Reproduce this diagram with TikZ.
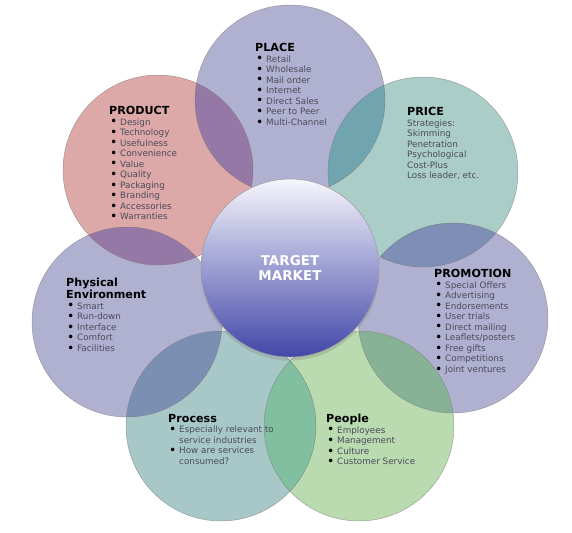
\documentclass[tikz,border=0pt]{standalone}
\usepackage{fontspec}
\setmainfont{DejaVu Sans}
\usepackage{tikz}
\usetikzlibrary{shadows}

\definecolor{lavc}{RGB}{176,176,208}
\definecolor{pricec}{RGB}{170,205,200}
\definecolor{peoplec}{RGB}{186,218,176}
\definecolor{processc}{RGB}{168,200,200}
\definecolor{prodc}{RGB}{221,168,168}
\definecolor{ovpurple}{RGB}{150,120,166}
\definecolor{ovteal}{RGB}{112,165,175}
\definecolor{ovblue}{RGB}{125,143,180}
\definecolor{ovgreen}{RGB}{135,178,150}
\definecolor{ovsea}{RGB}{130,190,160}
\definecolor{ovslate}{RGB}{123,143,178}
\definecolor{hubtop}{RGB}{246,246,252}
\definecolor{hubbot}{RGB}{66,70,168}
\definecolor{textgray}{RGB}{75,75,92}

\newcommand{\ttl}[1]{{\fontsize{9.5}{9}\selectfont\bfseries\color{black}#1}}
\newcommand{\itm}[1]{\hspace*{0.03cm}\makebox[0.30cm][l]{\raisebox{-0.6pt}{\fontsize{10.5}{9}\selectfont\color{black}\textbullet}}#1}
\newcommand{\cnt}[1]{\hspace*{0.33cm}#1}

\tikzset{
  petal/.style={circle, minimum size=5.7cm, inner sep=0pt},
  rim/.style={draw=black!55, draw opacity=0.6, line width=0.4pt},
  txt/.style={anchor=north west, inner sep=0pt, align=left, text=textgray,
    font=\fontsize{7.5}{9}\selectfont},
  hub/.style={circle, minimum size=5.34cm, inner sep=0pt, draw=black!40,
    top color=hubtop, bottom color=hubbot, text=white, align=center,
    font=\fontsize{11.5}{13.6}\selectfont\bfseries,
    drop shadow={opacity=0.3, shadow xshift=0pt, shadow yshift=-3pt}}
}

\begin{document}
\begin{tikzpicture}[x=0.03cm, y=-0.03cm]
  \useasboundingbox (0,0) rectangle (572,532);

  \node [petal, fill=lavc] (place) at (290,100) {};
  \node [petal, fill=pricec] (price) at (423,172) {};
  \node [petal, fill=lavc] (promo) at (453,318) {};
  \node [petal, fill=peoplec] (people) at (359,426) {};
  \node [petal, fill=processc] (process) at (221,426) {};
  \node [petal, fill=lavc] (phys) at (127,322) {};
  \node [petal, fill=prodc] (product) at (158,170) {};

  \foreach \a/\b/\c in {product/place/ovpurple, place/price/ovteal,
      price/promo/ovblue, promo/people/ovgreen, people/process/ovsea,
      process/phys/ovslate, phys/product/ovpurple} {
    \begin{scope}
      \clip (\a) circle (95);
      \fill [\c] (\b) circle (95);
    \end{scope}
  }
  \foreach \n in {place, price, promo, people, process, phys, product}
    \draw [rim] (\n) circle (95);

  \node [hub] (tm) at (290,268) {TARGET\\MARKET};

  \node [txt] (placetxt) at (255,43) {\ttl{PLACE}\\ \itm{Retail}\\ \itm{Wholesale}\\
    \itm{Mail order}\\ \itm{Internet}\\ \itm{Direct Sales}\\ \itm{Peer to Peer}\\
    \itm{Multi-Channel}};
  \node [txt] (producttxt) at (109,106) {\ttl{PRODUCT}\\ \itm{Design}\\ \itm{Technology}\\
    \itm{Usefulness}\\ \itm{Convenience}\\ \itm{Value}\\ \itm{Quality}\\ \itm{Packaging}\\
    \itm{Branding}\\ \itm{Accessories}\\ \itm{Warranties}};
  \node [txt] (pricetxt) at (407,107) {\ttl{PRICE}\\ Strategies:\\ Skimming\\ Penetration\\
    Psychological\\ Cost-Plus\\ Loss leader, etc.};
  \node [txt] (promotxt) at (434,269) {\ttl{PROMOTION}\\ \itm{Special Offers}\\
    \itm{Advertising}\\ \itm{Endorsements}\\ \itm{User trials}\\ \itm{Direct mailing}\\
    \itm{Leaflets/posters}\\ \itm{Free gifts}\\ \itm{Competitions}\\ \itm{Joint ventures}};
  \node [txt] (phystxt) at (66,278) {\ttl{Physical}\\ \ttl{Environment}\\ \itm{Smart}\\
    \itm{Run-down}\\ \itm{Interface}\\ \itm{Comfort}\\ \itm{Facilities}};
  \node [txt] (processtxt) at (168,414) {\ttl{Process}\\ \itm{Especially relevant to}\\
    \cnt{service industries}\\ \itm{How are services}\\ \cnt{consumed?}};
  \node [txt] (peopletxt) at (326,414) {\ttl{People}\\ \itm{Employees}\\ \itm{Management}\\
    \itm{Culture}\\ \itm{Customer Service}};
\end{tikzpicture}
\end{document}
